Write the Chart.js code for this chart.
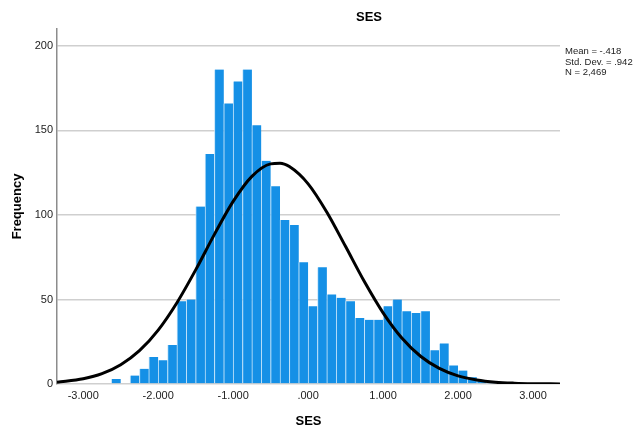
<!DOCTYPE html>
<html>
<head>
<meta charset="utf-8">
<script src="https://cdn.jsdelivr.net/npm/chart.js@4"></script>
<style>
  html, body { margin: 0; padding: 0; background: #fff; }
  #wrap { width: 641px; height: 435px; }
</style>
</head>
<body>
<div id="wrap"><canvas id="sesHist"></canvas></div>
<script>
// SES histogram (SPSS style) with normal curve

// bins: left edge of first bin and width
const binStart = -2.625;
const binWidth = 0.125;
const binCounts = [3, 0, 5, 9, 16, 14, 23, 49, 50, 105, 136, 186, 166, 179, 186, 153,
    132, 117, 97, 94, 72, 46, 69, 53, 51, 49, 39, 38, 38, 46, 50, 43, 42, 43, 20, 24,
    11, 8, 4, 2, 1];

// normal curve
const curveX = [-3.35, -3.0, -2.75, -2.5, -2.25, -2.0, -1.75, -1.5, -1.25, -1.0, -0.75,
    -0.5, -0.375, -0.25, 0.0, 0.25, 0.5, 0.75, 1.0, 1.25, 1.5, 1.75, 2.0, 2.25, 2.5,
    2.75, 3.0, 3.36];
const curveY = [1.0, 3.1, 6.1, 11.4, 19.7, 31.9, 48.1, 67.5, 88.5, 108, 122.8,
    130.2, 130.6, 128.6, 118.4, 101.6, 81.3, 60.6, 42.1, 27.2, 16.4, 9.2, 4.8, 2.4, 1.1,
    0.5, 0.2, 0.05];

const xTicks = [-3, -2, -1, 0, 1, 2, 3];
const yTicks = [0, 50, 100, 150, 200];
const statLines = ["Mean = -.418", "Std. Dev. = .942", "N = 2,469"];

const FONT = "'Liberation Sans', Arial, sans-serif";

function fmtX(v) {
    let s = Math.abs(v).toFixed(3);
    if (s.startsWith("0")) s = s.slice(1);
    return (v < 0 ? "-" : "") + s;
}

const barData = binCounts.map((c, i) => ({ x: binStart + binWidth * (i + 0.5), y: c }));
const lineData = curveX.map((x, i) => ({ x: x, y: curveY[i] }));

// title and stats box
const textPlugin = {
    id: 'sesText',
    afterDraw(chart) {
        const ctx = chart.ctx;
        ctx.save();
        ctx.fillStyle = '#000';
        ctx.font = "bold 13px " + FONT;
        ctx.textAlign = 'center';
        ctx.textBaseline = 'middle';
        ctx.fillText("SES", 369, 17);

        ctx.font = "9.5px " + FONT;
        ctx.textAlign = 'left';
        ctx.textBaseline = 'top';
        ctx.fillStyle = '#222';
        statLines.forEach((t, i) => ctx.fillText(t, 565, 47 + i * 10.5));
        ctx.restore();
    }
};

new Chart(document.getElementById('sesHist'), {
    type: 'bar',
    data: {
        datasets: [
            {
                type: 'line',
                data: lineData,
                borderColor: '#000',
                borderWidth: 3,
                pointRadius: 0,
                cubicInterpolationMode: 'monotone',
                order: 0
            },
            {
                type: 'bar',
                data: barData,
                backgroundColor: '#1590e6',
                borderColor: 'rgba(190,225,250,0.9)',
                borderWidth: { left: 1, right: 0, top: 0, bottom: 0 },
                barPercentage: 1,
                categoryPercentage: 1,
                order: 1
            }
        ]
    },
    options: {
        responsive: true,
        maintainAspectRatio: false,
        animation: false,
        layout: { padding: { left: 0, top: 29, right: 81, bottom: 0 } },
        plugins: {
            legend: { display: false },
            tooltip: { enabled: false }
        },
        scales: {
            x: {
                type: 'linear',
                min: -3.35,
                max: 3.36,
                offset: false,
                afterFit(scale) { scale.height = 51; },
                afterBuildTicks(scale) { scale.ticks = xTicks.map(v => ({ value: v })); },
                grid: { display: false, offset: false, drawTicks: false },
                border: { display: false },
                ticks: {
                    font: { family: FONT, size: 11 },
                    color: '#222',
                    padding: 5,
                    maxRotation: 0,
                    callback: v => fmtX(v)
                },
                title: {
                    display: true,
                    text: 'SES',
                    color: '#000',
                    font: { family: FONT, size: 13, weight: 'bold' },
                    padding: { top: 4, bottom: 6 }
                }
            },
            y: {
                min: 0,
                max: 210,
                afterFit(scale) { scale.width = 57; },
                afterBuildTicks(scale) { scale.ticks = yTicks.map(v => ({ value: v })); },
                grid: { color: '#cfcfcf', lineWidth: 1.5, drawTicks: false },
                border: { display: true, color: '#8c8c8c', width: 1.5 },
                ticks: {
                    font: { family: FONT, size: 11 },
                    color: '#222',
                    padding: 4
                },
                title: {
                    display: true,
                    text: 'Frequency',
                    color: '#000',
                    font: { family: FONT, size: 13, weight: 'bold' },
                    padding: { top: 10, bottom: 0 }
                }
            }
        }
    },
    plugins: [textPlugin]
});
</script>
</body>
</html>
